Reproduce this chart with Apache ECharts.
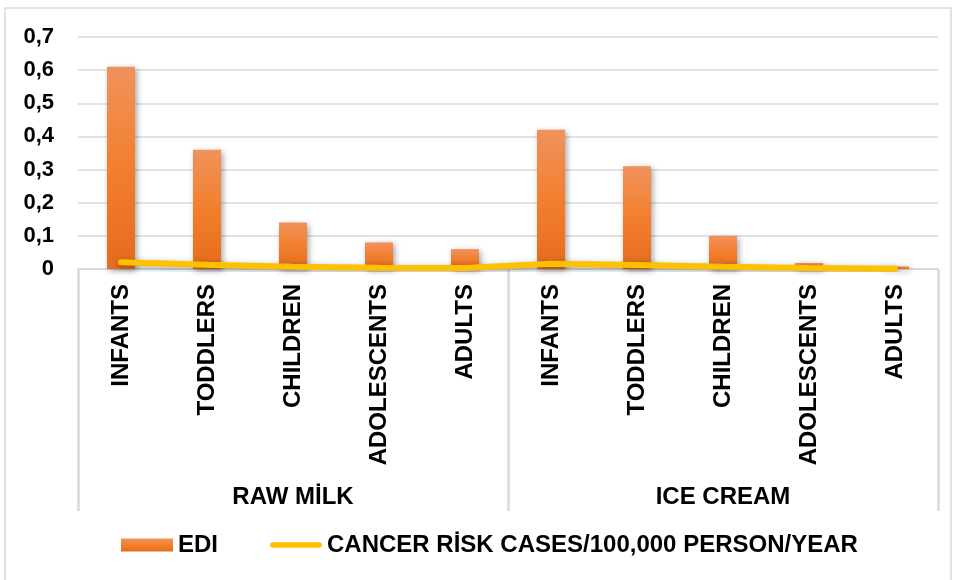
<!DOCTYPE html>
<html>
<head>
<meta charset="utf-8">
<script src="https://cdn.jsdelivr.net/npm/echarts@6/dist/echarts.min.js"></script>
<style>
html,body{margin:0;padding:0;background:#fff;}
#c{width:955px;height:580px;}
</style>
</head>
<body>
<div id="c"></div>
<script>
const categories = ['INFANTS','TODDLERS','CHILDREN','ADOLESCENTS','ADULTS','INFANTS','TODDLERS','CHILDREN','ADOLESCENTS','ADULTS'];
const groups = ['RAW MİLK','ICE CREAM'];
const ediValues = [0.61,0.36,0.14,0.08,0.06,0.42,0.31,0.10,0.018,0.008];
const cancerRisk = [0.02,0.013,0.007,0.004,0.003,0.016,0.012,0.007,0.003,0.001];
const yTicks = [0,0.1,0.2,0.3,0.4,0.5,0.6,0.7];

const FONT = 'Liberation Sans, Arial, sans-serif';
const chart = echarts.init(document.getElementById('c'), null, {renderer:'canvas'});
chart.setOption({
  animation:false,
  backgroundColor:'#fff',
  graphic:[{type:'rect',shape:{x:5,y:8,width:946,height:600},style:{fill:'none',stroke:'#D9D9D9',lineWidth:1.5},silent:true}],
  grid:{left:78,right:17,top:37,bottom:311},
  legend:{
    bottom:18,left:116,itemGap:52,itemWidth:52,itemHeight:13,
    textStyle:{fontFamily:FONT,fontWeight:'bold',fontSize:24,color:'#000'},
    data:[
      {name:'EDI',icon:'rect'},
      {name:'CANCER RİSK CASES/100,000 PERSON/YEAR',icon:'path://M3,0 L55,0 A3,3 0 0 1 55,6 L3,6 A3,3 0 0 1 3,0 Z',itemStyle:{color:'#FFC000'}}
    ]
  },
  xAxis:[
    {type:'category',data:categories,position:'bottom',
     axisLine:{show:true,lineStyle:{color:'#D9D9D9',width:2}},
     axisTick:{show:false},
     axisLabel:{rotate:90,interval:0,margin:15,fontFamily:FONT,fontWeight:'bold',fontSize:24,color:'#000'}},
    {type:'category',data:groups,position:'bottom',
     axisLine:{show:false},
     axisTick:{show:true,length:242,interval:0,lineStyle:{color:'#D9D9D9',width:2.5}},
     axisLabel:{interval:0,margin:216,fontFamily:FONT,fontWeight:'bold',fontSize:24,color:'#000'}}
  ],
  yAxis:{type:'value',min:0,max:0.7,interval:0.1,
    axisLine:{show:false},axisTick:{show:false},
    splitLine:{lineStyle:{color:'#D9D9D9',width:1.5}},
    axisLabel:{margin:24,fontFamily:FONT,fontWeight:'bold',fontSize:22,color:'#000',
      formatter:function(v){const t=yTicks.find(x=>Math.abs(x-v)<1e-9);return String(Math.round((t!==undefined?t:v)*10)/10).replace('.',',');}}
  },
  series:[
    {name:'EDI',type:'bar',data:ediValues,barWidth:28,z:2,
     itemStyle:{color:new echarts.graphic.LinearGradient(0,0,0,1,[{offset:0,color:'#F0925C'},{offset:0.5,color:'#F37F2E'},{offset:1,color:'#E46C1D'}]),
       shadowBlur:6,shadowColor:'rgba(0,0,0,0.35)',shadowOffsetX:2,shadowOffsetY:2}},
    {name:'CANCER RİSK CASES/100,000 PERSON/YEAR',type:'line',data:cancerRisk,z:3,
     showSymbol:false,symbol:'none',
     lineStyle:{color:'#FFC000',width:6,cap:'round',shadowBlur:6,shadowColor:'rgba(0,0,0,0.35)',shadowOffsetY:2},
     itemStyle:{color:'#FFC000'}}
  ]
});
</script>
</body>
</html>
